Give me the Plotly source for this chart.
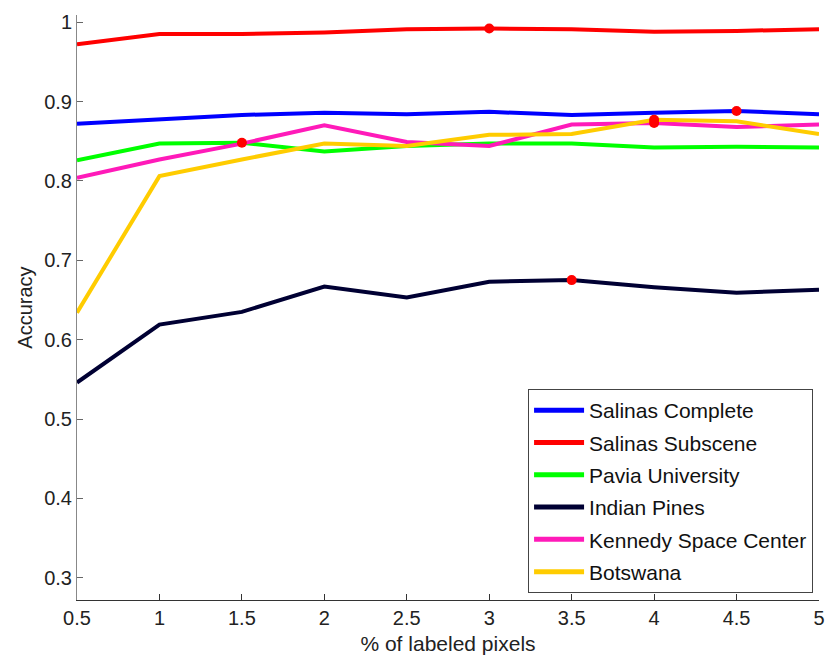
import plotly.graph_objects as go

x_pct = [0.5, 1, 1.5, 2, 2.5, 3, 3.5, 4, 4.5, 5]

salinas_complete = [0.872, 0.877, 0.883, 0.886, 0.884, 0.887, 0.883, 0.886, 0.888, 0.884]
salinas_subscene = [0.972, 0.985, 0.985, 0.987, 0.991, 0.992, 0.991, 0.988, 0.989, 0.991]
pavia_university = [0.826, 0.847, 0.848, 0.837, 0.844, 0.847, 0.847, 0.842, 0.843, 0.842]
indian_pines = [0.546, 0.619, 0.635, 0.667, 0.653, 0.673, 0.675, 0.666, 0.659, 0.663]
kennedy_space = [0.804, 0.827, 0.847, 0.870, 0.849, 0.844, 0.871, 0.873, 0.868, 0.871]
botswana = [0.634, 0.806, 0.827, 0.847, 0.844, 0.858, 0.859, 0.877, 0.875, 0.859]

series_names = ["Salinas Complete", "Salinas Subscene", "Pavia University",
                "Indian Pines", "Kennedy Space Center", "Botswana"]
series_values = [salinas_complete, salinas_subscene, pavia_university,
                 indian_pines, kennedy_space, botswana]
series_colors = ["#0000ff", "#ff0000", "#00ff00", "#000033", "#ff1ab9", "#ffcc00"]

x_ticks = [0.5, 1, 1.5, 2, 2.5, 3, 3.5, 4, 4.5, 5]
y_ticks = [0.3, 0.4, 0.5, 0.6, 0.7, 0.8, 0.9, 1.0]

fig = go.Figure()
for k, (name, vals, col) in enumerate(zip(series_names, series_values, series_colors)):
    fig.add_trace(go.Scatter(x=x_pct, y=vals, mode="lines", name=name,
                             legendgroup=f"g{k}",
                             line=dict(color=col, width=4)))

# red markers at the maximum of each series
for vals in series_values:
    i = max(range(len(vals)), key=lambda k: vals[k])
    fig.add_trace(go.Scatter(x=[x_pct[i]], y=[vals[i]], mode="markers",
                             marker=dict(color="#ff0000", size=10),
                             showlegend=False, hoverinfo="skip"))

font_family = "Liberation Sans, Arial, sans-serif"
fig.update_layout(
    width=826, height=662,
    margin=dict(l=77, r=7, t=15, b=62),
    paper_bgcolor="white", plot_bgcolor="white",
    font=dict(family=font_family, size=20, color="#222"),
    showlegend=True,
    legend=dict(x=0.992, y=0.012, xanchor="right", yanchor="bottom",
                bordercolor="#444", borderwidth=1, bgcolor="white",
                font=dict(size=21, color="#111"), tracegroupgap=2,
                itemsizing="constant", itemwidth=50),
)
fig.update_xaxes(range=[0.5, 5], tickvals=x_ticks,
                 ticktext=[f"{t:g}" for t in x_ticks],
                 showgrid=False, zeroline=False, showline=True,
                 linecolor="#333", linewidth=1, ticks="inside", ticklen=6,
                 tickcolor="#333", mirror=False, tickfont=dict(size=20),
                 automargin=False,
                 title=dict(text="% of labeled pixels", font=dict(size=21), standoff=8))
fig.update_yaxes(range=[0.272, 1.009], tickvals=y_ticks,
                 ticktext=[f"{t:g}" for t in y_ticks],
                 showgrid=False, zeroline=False, showline=True,
                 linecolor="#888", linewidth=1, ticks="inside", ticklen=6,
                 tickcolor="#666", mirror=False, tickfont=dict(size=20),
                 title=dict(text="Accuracy", font=dict(size=20), standoff=6))

fig.write_html("out.html")
